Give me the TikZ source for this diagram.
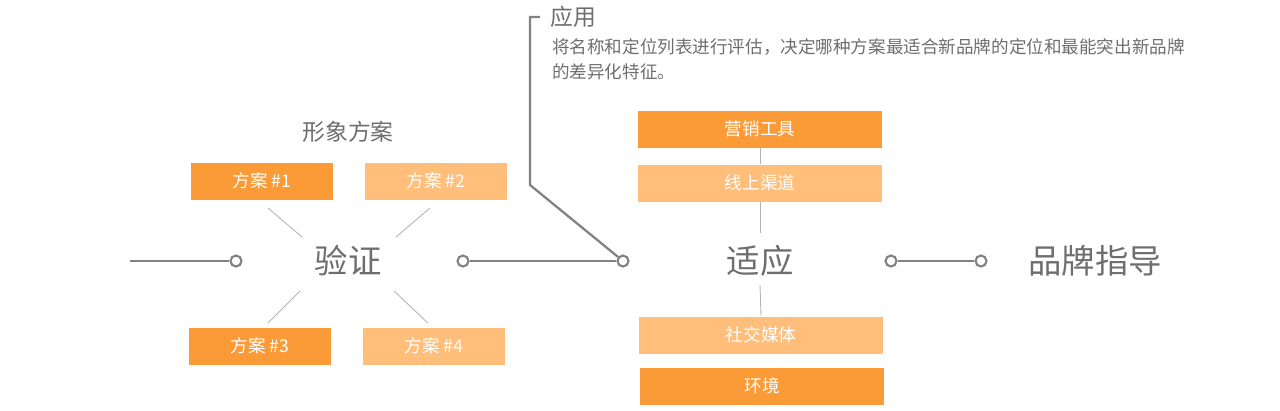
\documentclass[tikz,border=0pt]{standalone}
\usepackage{fontspec}
\setmainfont{Noto Sans CJK SC}
\definecolor{orangedark}{RGB}{250,155,55}
\definecolor{orangelight}{RGB}{255,190,122}
\definecolor{linegray}{RGB}{130,130,130}
\definecolor{textgray}{RGB}{110,110,110}
\tikzset{
  darkbox/.style={fill=orangedark, text=white, font=\fontsize{10}{12}\selectfont, minimum height=0.74cm, inner sep=0pt},
  lightbox/.style={fill=orangelight, text=white, font=\fontsize{10}{12}\selectfont, minimum height=0.74cm, inner sep=0pt},
  ring/.style={circle, draw=linegray, line width=1.2pt, fill=white, minimum size=0.22cm, inner sep=0pt},
  thin/.style={draw=linegray!60, line width=0.5pt},
  thick/.style={draw=linegray, line width=1.3pt}
}
\begin{document}
\begin{tikzpicture}[x=0.02cm, y=-0.02cm]
    \useasboundingbox (0,0) rectangle (1280,410);
    % Left part
    \coordinate (start) at (130,261);
    \node[ring] (c1) at (236,261) {};
    \draw[thick] (start) -- (c1);
    \node[text=textgray, font=\fontsize{19}{22}\selectfont] (check) at (348,261) {验证};
    \node[text=textgray, font=\fontsize{13}{15}\selectfont] (title) at (348,132) {形象方案};
    \node[darkbox, minimum width=2.86cm] (p1) at (262,181) {方案 \#1};
    \node[lightbox, minimum width=2.86cm] (p2) at (436,181) {方案 \#2};
    \node[darkbox, minimum width=2.86cm] (p3) at (260,346) {方案 \#3};
    \node[lightbox, minimum width=2.86cm] (p4) at (434,346) {方案 \#4};
    \draw[thin] (268,208) -- (302,237);
    \draw[thin] (430,208) -- (396,237);
    \draw[thin] (300,291) -- (268,323);
    \draw[thin] (394,291) -- (428,323);
    % Middle
    \node[ring] (c2) at (463,261) {};
    \node[ring] (c3) at (623,261) {};
    \draw[thick] (c2) -- (c3);
    \coordinate (bend) at (530,185);
    \coordinate (top) at (530,17);
    \coordinate (tip) at (540,17);
    \draw[thick] (c3) -- (bend) -- (top) -- (tip);
    \node[anchor=west, text=textgray, font=\fontsize{13}{15}\selectfont] (use) at (544,17) {应用};
    \node[anchor=west, text=textgray, font=\fontsize{10}{14}\selectfont, align=left] (usetext) at (546,59)
      {将名称和定位列表进行评估，决定哪种方案最适合新品牌的定位和最能突出新品牌\\的差异化特征。};
    % Right part
    \node[text=textgray, font=\fontsize{19}{22}\selectfont] (fit) at (760,261) {适应};
    \node[darkbox, minimum width=4.9cm] (r1) at (760,129) {营销工具};
    \node[lightbox, minimum width=4.9cm] (r2) at (760,183) {线上渠道};
    \node[lightbox, minimum width=4.9cm] (r3) at (761,335) {社交媒体};
    \node[darkbox, minimum width=4.9cm] (r4) at (762,386) {环境};
    \draw[thin] (r1) -- (r2);
    \draw[thin] (r2.south) -- (760,233);
    \draw[thin] (760,285) -- (r3.north);
    \node[ring] (c4) at (891,261) {};
    \node[ring] (c5) at (981,261) {};
    \draw[thick] (c4) -- (c5);
    \node[text=textgray, font=\fontsize{19}{22}\selectfont] (guide) at (1095,261) {品牌指导};
\end{tikzpicture}
\end{document}
